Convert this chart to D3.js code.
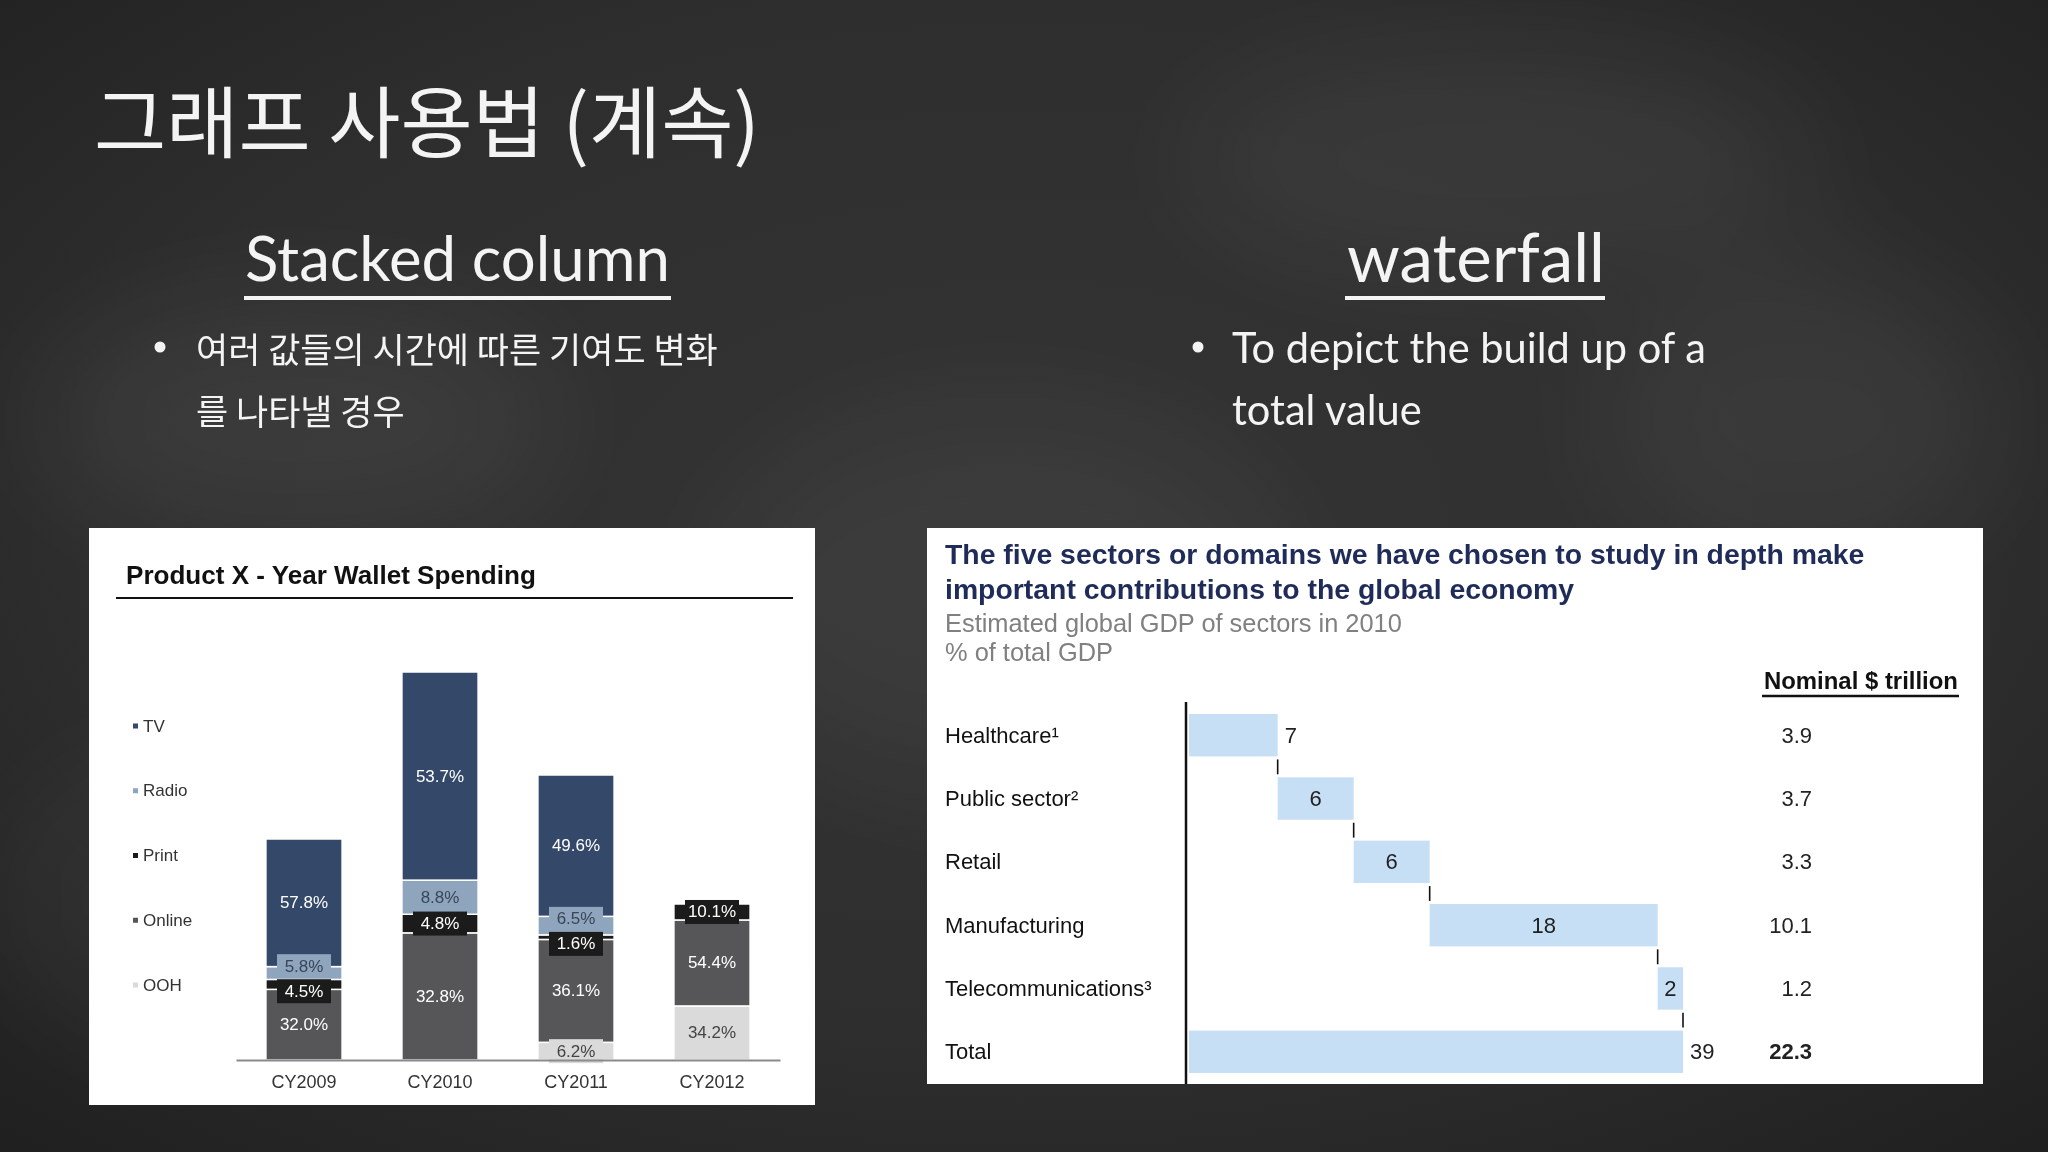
<!DOCTYPE html>
<html>
<head>
<meta charset="utf-8">
<script src="https://cdn.jsdelivr.net/npm/d3@7"></script>
<style>
  html, body { margin: 0; padding: 0; background: #2d2d2d; }
  svg { display: block; }
</style>
</head>
<body>
<svg id="slide" width="2048" height="1152"></svg>
<script>
// ---------------- DATA ----------------
// Stacked column (shares in % of each year's wallet)
const years = ["CY2009", "CY2010", "CY2011", "CY2012"];
const legendMedia = ["TV", "Radio", "Print", "Online", "OOH"];
const stackMedia = ["OOH", "Online", "Print", "Radio", "TV"];
const tvShare = [57.8, 53.7, 49.6, 0];
const radioShare = [5.8, 8.8, 6.5, 0];
const printShare = [4.5, 4.8, 1.6, 10.1];
const onlineShare = [32.0, 32.8, 36.1, 54.4];
const oohShare = [0, 0, 6.2, 34.2];
// relative total wallet spending per year (unlabelled)
const totalSpend = [221, 388, 285, 156];

// Waterfall
const sectors = ["Healthcare¹", "Public sector²", "Retail", "Manufacturing", "Telecommunications³", "Total"];
const gdpShare = [7, 6, 6, 18, 2, 39];
const nominalTrillion = [3.9, 3.7, 3.3, 10.1, 1.2, 22.3];

// Slide texts
const slideTitle = "그래프 사용법 (계속)";
const leftHeading = "Stacked column";
const rightHeading = "waterfall";
const leftBullet = ["여러 값들의 시간에 따른 기여도 변화", "를 나타낼 경우"];
const rightBullet = ["To depict the build up of a", "total value"];
const leftChartTitle = "Product X - Year Wallet Spending";
const rightChartTitle = ["The five sectors or domains we have chosen to study in depth make",
                         "important contributions to the global economy"];
const rightChartSub = ["Estimated global GDP of sectors in 2010", "% of total GDP"];
const rightColumnHeader = "Nominal $ trillion";

// ---------------- HELPERS ----------------
const svg = d3.select("#slide");
function fitWidth(sel, w) {
  const len = sel.node().getComputedTextLength();
  const fs = parseFloat(sel.attr("font-size"));
  const nfs = fs * w / len;
  sel.attr("font-size", nfs);
  return nfs;
}

// ---------------- BACKGROUND (chalkboard) ----------------
const defs = svg.append("defs");
const vg = defs.append("radialGradient").attr("id", "vign")
  .attr("cx", "50%").attr("cy", "45%").attr("r", "75%");
vg.append("stop").attr("offset", "0%").attr("stop-color", "#343434");
vg.append("stop").attr("offset", "60%").attr("stop-color", "#2e2e2e");
vg.append("stop").attr("offset", "100%").attr("stop-color", "#1f1f1f");
const blur = defs.append("filter").attr("id", "smudge")
  .attr("x", "-50%").attr("y", "-50%").attr("width", "200%").attr("height", "200%");
blur.append("feGaussianBlur").attr("stdDeviation", 60);

svg.append("rect").attr("width", 2048).attr("height", 1152).attr("fill", "url(#vign)");
const smudges = svg.append("g").attr("filter", "url(#smudge)");
[[300, 420, 260, 120, 0.06], [1500, 160, 320, 110, 0.05], [1000, 600, 300, 200, 0.04],
 [1800, 420, 200, 150, 0.05], [200, 900, 200, 150, 0.04]].forEach(s => {
  smudges.append("ellipse").attr("cx", s[0]).attr("cy", s[1]).attr("rx", s[2]).attr("ry", s[3])
    .attr("fill", "#ffffff").attr("opacity", s[4]);
});

// ---------------- CHALK TEXT ----------------
const chalk = svg.append("g").attr("fill", "#f4f4f4");
const t1 = chalk.append("text").text(slideTitle)
  .attr("x", 94).attr("y", 152)
  .attr("font-family", "'Noto Sans CJK KR', sans-serif").attr("font-weight", 400)
  .attr("font-size", 70);
fitWidth(t1, 666);

const h1 = chalk.append("text").text(leftHeading)
  .attr("x", 245).attr("y", 281)
  .attr("font-family", "Lato, sans-serif").attr("font-size", 60);
fitWidth(h1, 425);
const h2 = chalk.append("text").text(rightHeading)
  .attr("x", 1347).attr("y", 282)
  .attr("font-family", "Lato, sans-serif").attr("font-size", 60);
fitWidth(h2, 258);
chalk.append("line").attr("x1", 244).attr("x2", 671).attr("y1", 298).attr("y2", 298)
  .attr("stroke", "#f4f4f4").attr("stroke-width", 4);
chalk.append("line").attr("x1", 1345).attr("x2", 1605).attr("y1", 298).attr("y2", 298)
  .attr("stroke", "#f4f4f4").attr("stroke-width", 4);

chalk.append("circle").attr("cx", 160).attr("cy", 347).attr("r", 5.5);
chalk.append("circle").attr("cx", 1198).attr("cy", 347).attr("r", 5.5);
const lb0 = chalk.append("text").text(leftBullet[0]).attr("x", 196).attr("y", 347)
  .attr("dominant-baseline", "central")
  .attr("font-family", "'Noto Sans CJK KR', sans-serif").attr("font-size", 30);
const lbSize = fitWidth(lb0, 522);
chalk.append("text").text(leftBullet[1]).attr("x", 196).attr("y", 409)
  .attr("dominant-baseline", "central")
  .attr("font-family", "'Noto Sans CJK KR', sans-serif").attr("font-size", lbSize);
const rb0 = chalk.append("text").text(rightBullet[0]).attr("x", 1232).attr("y", 347)
  .attr("dominant-baseline", "central")
  .attr("font-family", "Lato, sans-serif").attr("font-size", 32);
const rbSize = fitWidth(rb0, 474);
chalk.append("text").text(rightBullet[1]).attr("x", 1232).attr("y", 409)
  .attr("dominant-baseline", "central")
  .attr("font-family", "Lato, sans-serif").attr("font-size", rbSize);

// ---------------- LEFT PANEL: STACKED COLUMN ----------------
const FONT = "'Liberation Sans', Arial, sans-serif";
const left = svg.append("g");
left.append("rect").attr("x", 89).attr("y", 528).attr("width", 726).attr("height", 577).attr("fill", "#ffffff");
const lt = left.append("text").text(leftChartTitle).attr("x", 126).attr("y", 584)
  .attr("font-family", FONT).attr("font-weight", "bold").attr("font-size", 26).attr("fill", "#111");
fitWidth(lt, 410);
left.append("line").attr("x1", 116).attr("x2", 793).attr("y1", 598).attr("y2", 598)
  .attr("stroke", "#111").attr("stroke-width", 2);

const mediaColor = d3.scaleOrdinal().domain(legendMedia)
  .range(["#34496a", "#8ea5bd", "#1b1b1b", "#565658", "#dadada"]);
const labelColor = d3.scaleOrdinal().domain(legendMedia)
  .range(["#ffffff", "#3a4656", "#ffffff", "#ffffff", "#444444"]);

const shareBy = { TV: tvShare, Radio: radioShare, Print: printShare, Online: onlineShare, OOH: oohShare };
const rows = years.map((y, i) => {
  const sum = stackMedia.reduce((a, m) => a + shareBy[m][i], 0);
  const r = { year: y };
  stackMedia.forEach(m => { r[m] = totalSpend[i] * shareBy[m][i] / sum; r[m + "_pct"] = shareBy[m][i]; });
  return r;
});
const series = d3.stack().keys(stackMedia)(rows);

const xS = d3.scaleBand().domain(years).range([236, 780]).paddingInner(0.44).paddingOuter(0.22);
const yS = d3.scaleLinear().domain([0, 400]).range([1060, 660]);

const barsG = left.append("g");
series.forEach(s => {
  barsG.selectAll(null).data(s.filter(d => d[1] - d[0] > 0)).join("rect")
    .attr("x", d => xS(d.data.year))
    .attr("width", xS.bandwidth())
    .attr("y", d => yS(d[1]))
    .attr("height", d => yS(d[0]) - yS(d[1]))
    .attr("fill", mediaColor(s.key))
    .attr("stroke", "#ffffff").attr("stroke-width", 1.5);
});

// labels (small segments get a box in the segment colour; boxes pushed apart in a column)
const fmtPct = d3.format(".1f");
const labelsG = left.append("g").attr("font-family", FONT).attr("font-size", 17).attr("text-anchor", "middle");
years.forEach((yr, i) => {
  const items = [];
  series.forEach(s => {
    const d = s[i];
    const h = yS(d[0]) - yS(d[1]);
    if (h <= 0) return;
    items.push({ key: s.key, pct: d.data[s.key + "_pct"], cy: (yS(d[0]) + yS(d[1])) / 2, h: h, boxed: h < 24 });
  });
  // resolve overlaps among boxed labels (top to bottom)
  const boxH = 24;
  const boxed = items.filter(d => d.boxed).sort((a, b) => a.cy - b.cy);
  for (let k = 1; k < boxed.length; k++) {
    const a = boxed[k - 1], b = boxed[k];
    const overlap = (a.cy + boxH / 2 + 1) - (b.cy - boxH / 2);
    if (overlap > 0) { a.cy -= overlap / 2; b.cy += overlap / 2; }
  }
  items.forEach(d => {
    const cx = xS(yr) + xS.bandwidth() / 2;
    if (d.boxed) {
      labelsG.append("rect").attr("x", cx - 27).attr("y", d.cy - boxH / 2)
        .attr("width", 54).attr("height", boxH).attr("fill", mediaColor(d.key));
    }
    labelsG.append("text").attr("x", cx).attr("y", d.cy).attr("dominant-baseline", "central")
      .attr("fill", labelColor(d.key)).text(fmtPct(d.pct) + "%");
  });
});

// x axis
const xAxisG = left.append("g").attr("transform", "translate(0,1060)")
  .call(d3.axisBottom(xS).tickSize(0).tickSizeOuter(0));
xAxisG.select(".domain").attr("stroke", "#8a8a8a").attr("stroke-width", 2);
xAxisG.selectAll(".tick text").attr("font-family", FONT).attr("font-size", 18)
  .attr("fill", "#333").attr("y", 22).attr("dy", "0.35em");

// legend
const legY = d3.scalePoint().domain(legendMedia).range([726, 985]);
const legG = left.append("g");
legendMedia.forEach(m => {
  legG.append("rect").attr("x", 133).attr("y", legY(m) - 2.5).attr("width", 5).attr("height", 5).attr("fill", mediaColor(m));
  legG.append("text").attr("x", 143).attr("y", legY(m)).attr("dominant-baseline", "central")
    .attr("font-family", FONT).attr("font-size", 17).attr("fill", "#333").text(m);
});

// ---------------- RIGHT PANEL: WATERFALL ----------------
const right = svg.append("g");
right.append("rect").attr("x", 927).attr("y", 528).attr("width", 1056).attr("height", 556).attr("fill", "#ffffff");
const rt0 = right.append("text").text(rightChartTitle[0]).attr("x", 945).attr("y", 554)
  .attr("dominant-baseline", "central").attr("font-family", FONT).attr("font-weight", "bold")
  .attr("font-size", 26).attr("fill", "#1f2b58");
const rtSize = fitWidth(rt0, 920);
right.append("text").text(rightChartTitle[1]).attr("x", 945).attr("y", 589)
  .attr("dominant-baseline", "central").attr("font-family", FONT).attr("font-weight", "bold")
  .attr("font-size", rtSize).attr("fill", "#1f2b58");
const rs0 = right.append("text").text(rightChartSub[0]).attr("x", 945).attr("y", 623)
  .attr("dominant-baseline", "central").attr("font-family", FONT)
  .attr("font-size", 22).attr("fill", "#808080");
const rsSize = fitWidth(rs0, 457);
right.append("text").text(rightChartSub[1]).attr("x", 945).attr("y", 652)
  .attr("dominant-baseline", "central").attr("font-family", FONT)
  .attr("font-size", rsSize).attr("fill", "#808080");
const nh = right.append("text").text(rightColumnHeader).attr("x", 1764).attr("y", 680)
  .attr("dominant-baseline", "central").attr("font-family", FONT).attr("font-weight", "bold")
  .attr("font-size", 22).attr("fill", "#111");
fitWidth(nh, 194);
right.append("line").attr("x1", 1762).attr("x2", 1959).attr("y1", 696).attr("y2", 696)
  .attr("stroke", "#111").attr("stroke-width", 2.5);

const totalIdx = sectors.length - 1;
let run = 0;
const wf = sectors.map((s, i) => {
  if (i === totalIdx) return { name: s, v: gdpShare[i], x0: 0, x1: gdpShare[i], total: true, n: nominalTrillion[i] };
  const o = { name: s, v: gdpShare[i], x0: run, x1: run + gdpShare[i], total: false, n: nominalTrillion[i] };
  run += gdpShare[i];
  return o;
});

const xW = d3.scaleLinear().domain([0, d3.sum(gdpShare.slice(0, totalIdx))]).range([1189, 1683]);
const yW = d3.scaleBand().domain(sectors).range([714, 1073]).paddingInner(0.33).paddingOuter(0);

right.selectAll(".wfbar").data(wf).join("rect").attr("class", "wfbar")
  .attr("x", d => xW(d.x0)).attr("width", d => xW(d.x1) - xW(d.x0))
  .attr("y", d => yW(d.name)).attr("height", yW.bandwidth())
  .attr("fill", "#c7dff5");

// connectors
wf.forEach((d, i) => {
  if (i === wf.length - 1) return;
  const nxt = wf[i + 1];
  right.append("line")
    .attr("x1", xW(d.x1)).attr("x2", xW(d.x1))
    .attr("y1", yW(d.name) + yW.bandwidth() + 3).attr("y2", yW(nxt.name) - 3)
    .attr("stroke", "#111").attr("stroke-width", 1.6);
});

// vertical axis line
right.append("line").attr("x1", xW(0) - 3).attr("x2", xW(0) - 3)
  .attr("y1", yW.range()[0] - 12).attr("y2", 1084)
  .attr("stroke", "#111").attr("stroke-width", 2.5);

// category labels
right.selectAll(".cat").data(wf).join("text").attr("class", "cat")
  .attr("x", 945).attr("y", d => yW(d.name) + yW.bandwidth() / 2)
  .attr("dominant-baseline", "central").attr("font-family", FONT).attr("font-size", 22)
  .attr("fill", "#111").text(d => d.name);

// value labels: first and total outside, others centred
right.selectAll(".val").data(wf).join("text").attr("class", "val")
  .attr("x", (d, i) => (i === 0 || d.total) ? xW(d.x1) + 7 : (xW(d.x0) + xW(d.x1)) / 2)
  .attr("text-anchor", (d, i) => (i === 0 || d.total) ? "start" : "middle")
  .attr("y", d => yW(d.name) + yW.bandwidth() / 2)
  .attr("dominant-baseline", "central").attr("font-family", FONT).attr("font-size", 22)
  .attr("fill", "#222").text(d => d.v);

// nominal column
const fmtN = d3.format(".1f");
right.selectAll(".nom").data(wf).join("text").attr("class", "nom")
  .attr("x", 1812).attr("text-anchor", "end")
  .attr("y", d => yW(d.name) + yW.bandwidth() / 2)
  .attr("dominant-baseline", "central").attr("font-family", FONT).attr("font-size", 22)
  .attr("font-weight", d => d.total ? "bold" : "normal")
  .attr("fill", "#222").text(d => fmtN(d.n));
</script>
</body>
</html>
